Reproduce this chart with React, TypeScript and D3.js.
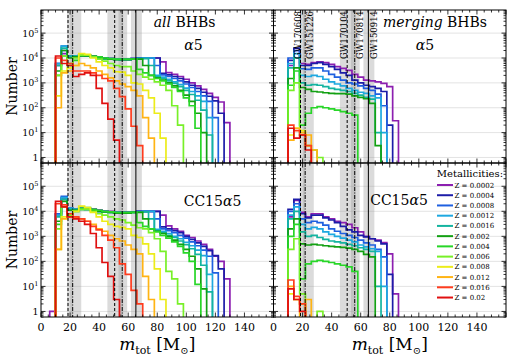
import React from "react";
import * as d3 from "d3";

// ---------- DATA ----------
// bin edges of the m_tot histograms [Msun]
const EDGES = [6, 10, 14, 18, 22, 26, 30, 34, 38, 42, 46, 50, 54, 58, 62, 66, 70, 74, 78, 82, 86, 90, 94, 98, 102, 106, 110, 114, 118, 122, 126, 130, 134];

const METALLICITIES = ["0.0002", "0.0004", "0.0008", "0.0012", "0.0016", "0.002", "0.004", "0.006", "0.008", "0.012", "0.016", "0.02"];
const COLORS = ["#8c1fb0", "#1c1ca8", "#1f60e0", "#1ea8e0", "#14b4a0", "#12a012", "#28d628", "#78f028", "#ecec1a", "#ffb414", "#ff3c1e", "#e01010"];

// all BHBs, alpha5
const allA5_z0002 = [0, 6e3, 1.5e4, 1.1e4, 1.1e4, 1.3e4, 1.3e4, 1.2e4, 1.1e4, 1e4, 9.5e3, 9e3, 8.5e3, 8.5e3, 9.5e3, 1e4, 1e4, 1e4, 1e4, 7e3, 2.6e3, 2.2e3, 1.8e3, 1.4e3, 1e3, 750, 550, 380, 260, 170, 25];
const allA5_z0004 = [0, 5e3, 2e4, 1.2e4, 1.2e4, 1.3e4, 1.3e4, 1.2e4, 1.1e4, 1e4, 9.5e3, 9e3, 9e3, 9e3, 9.5e3, 1e4, 1e4, 1e4, 1e4, 2.4e3, 2.1e3, 1.8e3, 1.5e3, 1.1e3, 800, 600, 420, 290, 190, 60];
const allA5_z0008 = [0, 6e3, 3e4, 1.2e4, 1.2e4, 1.3e4, 1.2e4, 1.1e4, 1e4, 1e4, 9.5e3, 9e3, 9e3, 9e3, 9.5e3, 1e4, 1e4, 1e4, 5e3, 2.1e3, 1.8e3, 1.5e3, 1.2e3, 900, 650, 450, 300, 180, 40];
const allA5_z0012 = [0, 6e3, 3e4, 1.2e4, 1.2e4, 1.3e4, 1.2e4, 1.1e4, 1e4, 9.5e3, 9e3, 9e3, 8.5e3, 8.5e3, 9e3, 9.5e3, 1e4, 1e4, 2e3, 1.7e3, 1.4e3, 1.1e3, 850, 620, 450, 300, 180, 40];
const allA5_z0016 = [0, 5e3, 2.5e4, 1.2e4, 1.2e4, 1.2e4, 1.2e4, 1.1e4, 1e4, 9.5e3, 9e3, 8.5e3, 8.5e3, 8.5e3, 9e3, 9.5e3, 9.5e3, 5e3, 1.8e3, 1.5e3, 1.2e3, 950, 700, 500, 340, 200, 80, 8];
const allA5_z002 = [0, 3e3, 2e4, 1e4, 1.1e4, 1.2e4, 1.2e4, 1.1e4, 1e4, 9.5e3, 9e3, 8.5e3, 8.5e3, 8.5e3, 9e3, 9e3, 5e3, 2e3, 1.6e3, 1.3e3, 1e3, 750, 500, 320, 180, 60, 10];
const allA5_z004 = [0, 2e3, 1.2e4, 5e3, 8e3, 1.3e4, 1.3e4, 1.2e4, 1.1e4, 1e4, 9.5e3, 9e3, 9e3, 9e3, 9e3, 3.5e3, 2.5e3, 2e3, 1.5e3, 1.2e3, 900, 650, 450, 250, 120, 15];
const allA5_z006 = [0, 2e3, 1.2e4, 6e3, 1e4, 1.3e4, 1.3e4, 1.1e4, 9e3, 7.5e3, 6e3, 5e3, 4.5e3, 4.5e3, 3e3, 2.2e3, 1.7e3, 1.4e3, 1.1e3, 800, 500, 120, 20];
const allA5_z008 = [0, 300, 3e3, 4e3, 5e3, 1.5e4, 1.4e4, 1e4, 7e3, 5e3, 4e3, 2.8e3, 2.7e3, 2e3, 1e3, 900, 500, 250, 60, 6];
const allA5_z012 = [0, 100, 2.5e3, 3e3, 5e3, 6e3, 5e3, 4e3, 3e3, 2.2e3, 1.6e3, 1.2e3, 900, 700, 500, 300, 40, 6];
const allA5_z016 = [0, 1e4, 8e3, 6e3, 3e3, 3e3, 3e3, 2.5e3, 2e3, 1.5e3, 1.2e3, 600, 280, 90, 18, 3];
const allA5_z02 = [0, 1.2e4, 6e3, 5e3, 1.8e3, 2.2e3, 2.5e3, 2e3, 600, 150, 35, 5];

// all BHBs, CC15 alpha5
const allCC_z0002 = [1, 8e3, 3e4, 1.2e4, 1.2e4, 1.3e4, 1.3e4, 1.2e4, 1.1e4, 1e4, 1e4, 9.5e3, 9e3, 9e3, 9.5e3, 1e4, 1e4, 1e4, 1e4, 7e3, 2.6e3, 2e3, 1.6e3, 1.1e3, 900, 650, 480, 300, 160, 100, 20];
const allCC_z0004 = [0, 8e3, 3.5e4, 1.3e4, 1.2e4, 1.3e4, 1.3e4, 1.2e4, 1.1e4, 1e4, 9.5e3, 9e3, 9e3, 9e3, 9.5e3, 1e4, 1e4, 1e4, 1e4, 2.4e3, 2e3, 1.7e3, 1.4e3, 1e3, 750, 550, 400, 270, 170, 50];
const allCC_z0008 = [0, 8e3, 4e4, 1.3e4, 1.2e4, 1.3e4, 1.2e4, 1.1e4, 1e4, 1e4, 9.5e3, 9e3, 9e3, 9e3, 9.5e3, 1e4, 1e4, 1e4, 5e3, 2e3, 1.7e3, 1.4e3, 1.1e3, 850, 600, 420, 280, 160, 35];
const allCC_z0012 = [0, 7e3, 3.5e4, 1.3e4, 1.2e4, 1.3e4, 1.2e4, 1.1e4, 1e4, 9.5e3, 9e3, 9e3, 8.5e3, 8.5e3, 9e3, 9.5e3, 1e4, 1e4, 1.9e3, 1.6e3, 1.3e3, 1e3, 800, 580, 420, 280, 170, 30];
const allCC_z0016 = [0, 6e3, 3e4, 1.2e4, 1.2e4, 1.2e4, 1.2e4, 1.1e4, 1e4, 9.5e3, 9e3, 8.5e3, 8.5e3, 8.5e3, 9e3, 9.5e3, 9.5e3, 5e3, 1.7e3, 1.4e3, 1.1e3, 900, 650, 470, 320, 190, 70, 6];
const allCC_z002 = [0, 4e3, 2.5e4, 1.1e4, 1.1e4, 1.2e4, 1.2e4, 1.1e4, 1e4, 9.5e3, 9e3, 8.5e3, 8.5e3, 8.5e3, 9e3, 9e3, 5e3, 2e3, 1.6e3, 1.3e3, 1e3, 700, 480, 300, 160, 50, 8];
const allCC_z004 = [0, 3e3, 1.5e4, 8e3, 1e4, 1.3e4, 1.4e4, 1.2e4, 1.1e4, 1e4, 9.5e3, 9e3, 9e3, 9e3, 9e3, 3.5e3, 2.5e3, 2e3, 1.5e3, 1.1e3, 850, 600, 400, 220, 100, 12];
const allCC_z006 = [0, 2e3, 1.5e4, 7e3, 1e4, 1.2e4, 1.2e4, 1e4, 8e3, 7e3, 6e3, 5e3, 4.5e3, 3.5e3, 2.8e3, 2.2e3, 2e3, 1.4e3, 800, 250, 40, 20, 2];
const allCC_z008 = [0, 300, 6e3, 8e3, 1e4, 1.6e4, 1.4e4, 9e3, 6e3, 4e3, 3e3, 2.5e3, 2.3e3, 2e3, 1.1e3, 900, 500, 200, 50, 3];
const allCC_z012 = [0, 300, 5e3, 6e3, 5.5e3, 5e3, 4e3, 3e3, 2e3, 1.6e3, 1.1e3, 800, 650, 450, 300, 200, 25, 3];
const allCC_z016 = [0, 2e4, 1.8e4, 8e3, 6e3, 5e3, 4e3, 2.5e3, 1.8e3, 1.1e3, 700, 350, 80, 30, 7, 2];
const allCC_z02 = [0, 2.5e4, 1.5e4, 6e3, 5e3, 4e3, 3e3, 1.3e3, 350, 90, 25, 3];

// merging BHBs, alpha5
const mrgA5_z0002 = [0, 5e3, 2e4, 6e3, 5.5e3, 6.5e3, 7e3, 6.5e3, 5.5e3, 4.5e3, 3.8e3, 3.2e3, 2.2e3, 1.7e3, 1.3e3, 1.2e3, 1.1e3, 950, 700, 30];
const mrgA5_z0004 = [0, 8e3, 2.5e4, 5e3, 5e3, 6e3, 6.5e3, 5.5e3, 4.5e3, 3.5e3, 2.5e3, 2e3, 1.3e3, 1e3, 800, 700, 600, 450, 20];
const mrgA5_z0008 = [0, 1e4, 2e4, 3.7e3, 3.5e3, 4e3, 4e3, 3e3, 2.2e3, 1.7e3, 1.3e3, 1e3, 900, 750, 600, 500, 350, 120];
const mrgA5_z0012 = [0, 6e3, 1.5e4, 2e3, 1.8e3, 2e3, 1.8e3, 1.4e3, 1.1e3, 900, 750, 600, 500, 420, 380, 300, 250, 10];
const mrgA5_z0016 = [0, 4e3, 1e4, 1e3, 800, 850, 800, 700, 600, 550, 500, 450, 380, 320, 260, 220, 10];
const mrgA5_z002 = [0, 1.5e3, 4e3, 650, 550, 450, 430, 400, 380, 370, 370, 350, 300, 260, 230, 150, 3];
const mrgA5_z004 = [0, 800, 3e3, 20, 60, 100, 110, 100, 90, 80, 70, 60, 50];
const mrgA5_z006 = [0, 500, 1e3, 8, 3, 2, 1];
const mrgA5_z008 = [0, 8, 15, 12, 3];
const mrgA5_z012 = [0, 5, 15, 10, 8, 2];
const mrgA5_z016 = [0, 20, 12, 8, 3];
const mrgA5_z02 = [0, 15, 6, 8, 2];

// merging BHBs, CC15 alpha5
const mrgCC_z0002 = [0, 6e3, 2.7e4, 9e3, 6e3, 8e3, 8e3, 6e3, 5e3, 4e3, 3.5e3, 3e3, 2.2e3, 1.5e3, 1e3, 800, 700, 560, 200, 5];
const mrgCC_z0004 = [0, 1.2e4, 3e4, 8e3, 5.5e3, 7e3, 7e3, 5.5e3, 4.5e3, 3.5e3, 2.5e3, 1.8e3, 1.5e3, 1.1e3, 950, 800, 650, 500, 30];
const mrgCC_z0008 = [0, 1e4, 2e4, 5e3, 3.5e3, 4e3, 3.5e3, 2.8e3, 2e3, 1.6e3, 1.3e3, 1.1e3, 900, 700, 550, 450, 300, 150];
const mrgCC_z0012 = [0, 7e3, 1.5e4, 3e3, 2e3, 2.3e3, 2e3, 1.5e3, 1.2e3, 1e3, 850, 700, 600, 450, 380, 320, 250, 10];
const mrgCC_z0016 = [0, 5e3, 1e4, 1.5e3, 1e3, 1.1e3, 900, 750, 650, 600, 550, 480, 420, 350, 300, 250, 10];
const mrgCC_z002 = [0, 2e3, 5e3, 500, 450, 480, 450, 420, 400, 380, 360, 340, 300, 250, 190, 150];
const mrgCC_z004 = [0, 1e3, 3e3, 20, 80, 100, 110, 100, 90, 80, 70, 60, 40];
const mrgCC_z006 = [0, 300, 800, 5, 0, 0, 1];
const mrgCC_z008 = [0, 5, 3, 2];
const mrgCC_z012 = [0, 10, 3, 0, 3];
const mrgCC_z016 = [0, 18, 4, 2];
const mrgCC_z02 = [0, 8, 3, 1];

// LVK events: total mass and 90% interval
const GW_NAMES = ["GW150914", "GW151226", "GW170104", "GW170608", "GW170814"];
const GW_MTOT = [65.3, 21.8, 50.7, 18.6, 55.9];
const GW_LO = [61.9, 20.1, 45.7, 17.9, 53.3];
const GW_HI = [69.4, 27.7, 56.6, 21.8, 59.3];

const X_TICKS = [0, 20, 40, 60, 80, 100, 120, 140];
const Y_TICKS = [1, 10, 100, 1000, 10000, 100000];

// ---------- STYLE / LAYOUT ----------
const FONT = "'DejaVu Serif', serif";
const GW_DASH = ["none", "4,1.5,1,1.5", "3,2", "3,2", "4,1.5,1,1.5"];
const GW_LABEL_DX = [6, 5, -3, -3, 5.5];
const L = 41, M = 273.5, R = 506, T = 10, MID = 163, B = 317;

const xLeft = d3.scaleLinear().domain([0, 160]).range([L, M]);
const xRight = d3.scaleLinear().domain([0, 160]).range([M, R]);
const yTop = d3.scaleLog().domain([0.6, 8.5e5]).range([MID, T]);
const yBot = d3.scaleLog().domain([0.6, 8.5e5]).range([B, MID]);

const PANELS = [
  { id: "tl", x: xLeft, y: yTop, series: [allA5_z0002, allA5_z0004, allA5_z0008, allA5_z0012, allA5_z0016, allA5_z002, allA5_z004, allA5_z006, allA5_z008, allA5_z012, allA5_z016, allA5_z02], left: true, bottom: false },
  { id: "tr", x: xRight, y: yTop, series: [mrgA5_z0002, mrgA5_z0004, mrgA5_z0008, mrgA5_z0012, mrgA5_z0016, mrgA5_z002, mrgA5_z004, mrgA5_z006, mrgA5_z008, mrgA5_z012, mrgA5_z016, mrgA5_z02], left: false, bottom: false },
  { id: "bl", x: xLeft, y: yBot, series: [allCC_z0002, allCC_z0004, allCC_z0008, allCC_z0012, allCC_z0016, allCC_z002, allCC_z004, allCC_z006, allCC_z008, allCC_z012, allCC_z016, allCC_z02], left: true, bottom: true },
  { id: "br", x: xRight, y: yBot, series: [mrgCC_z0002, mrgCC_z0004, mrgCC_z0008, mrgCC_z0012, mrgCC_z0016, mrgCC_z002, mrgCC_z004, mrgCC_z006, mrgCC_z008, mrgCC_z012, mrgCC_z016, mrgCC_z02], left: false, bottom: true },
];

function histPath(vals: number[], x: any, y: any) {
  const [y0] = y.range();
  const base = y0 + 10;
  const pts: [number, number][] = [[x(EDGES[0]), base]];
  vals.forEach((v, i) => pts.push([x(EDGES[i]), v > 0 ? y(v) : base]));
  pts.push([x(EDGES[vals.length]), base]);
  return d3.line().curve(d3.curveStepAfter)(pts) || "";
}

function Panel({ p }: { p: any }) {
  const { x, y } = p;
  const [x0, x1] = x.range();
  const [yb, yt] = y.range();
  const xMaj = d3.range(0, 161, 20);
  const xMin = d3.range(0, 161, 5).filter((v: number) => v % 20 !== 0);
  const yMin: number[] = [];
  for (let d = -1; d <= 5; d++) for (let m = 2; m <= 9; m++) {
    const v = m * Math.pow(10, d);
    if (v >= 0.6 && v <= 8.5e5) yMin.push(v);
  }
  const tk = (k: string, x1_: number, y1_: number, x2_: number, y2_: number) => (
    <line key={k} x1={x1_} y1={y1_} x2={x2_} y2={y2_} stroke="#000" strokeWidth={0.8} />
  );
  return (
    <g>
      <defs>
        <clipPath id={"clip-" + p.id}>
          <rect x={x0} y={yt} width={x1 - x0} height={yb - yt} />
        </clipPath>
      </defs>
      {Y_TICKS.map((v) => (
        <line key={"g" + v} x1={x0} x2={x1} y1={y(v)} y2={y(v)} stroke="#dcdcdc" strokeWidth={0.8} />
      ))}
      <g clipPath={`url(#clip-${p.id})`}>
        {GW_NAMES.map((n, i) => (
          <rect key={"b" + n} x={x(GW_LO[i])} width={x(GW_HI[i]) - x(GW_LO[i])} y={yt} height={yb - yt} fill="#999" fillOpacity={0.35} />
        ))}
        {p.series.map((s: number[], i: number) => (
          <path key={"s" + i} d={histPath(s, x, y)} fill="none" stroke={COLORS[i]} strokeWidth={1.7} strokeLinejoin="miter" />
        ))}
        {GW_NAMES.map((n, i) => (
          <line key={"l" + n} x1={x(GW_MTOT[i])} x2={x(GW_MTOT[i])} y1={yt} y2={yb} stroke="#000" strokeWidth={1} strokeDasharray={GW_DASH[i]} />
        ))}
      </g>
      {/* ticks */}
      {xMaj.map((v: number) => [tk("xb" + v, x(v), yb, x(v), yb - 4.5), tk("xt" + v, x(v), yt, x(v), yt + 4.5)])}
      {xMin.map((v: number) => [tk("xbm" + v, x(v), yb, x(v), yb - 2.5), tk("xtm" + v, x(v), yt, x(v), yt + 2.5)])}
      {Y_TICKS.map((v) => [tk("yl" + v, x0, y(v), x0 + 4.5, y(v)), tk("yr" + v, x1, y(v), x1 - 4.5, y(v))])}
      {yMin.map((v) => [tk("ylm" + v, x0, y(v), x0 + 2.5, y(v)), tk("yrm" + v, x1, y(v), x1 - 2.5, y(v))])}
      <rect x={x0} y={yt} width={x1 - x0} height={yb - yt} fill="none" stroke="#000" strokeWidth={1} />
      {p.left &&
        Y_TICKS.map((v, k) => (
          <text key={"yt" + v} x={38.5} y={y(v) + 3.5} textAnchor="end" fontSize={9.5} fontFamily={FONT}>
            {k === 0 ? "1" : "10"}
            {k > 0 && (
              <tspan dy={-4} fontSize={6.5}>
                {k}
              </tspan>
            )}
          </text>
        ))}
      {p.left && (
        <text transform={`translate(12,${(yb + yt) / 2}) rotate(-90)`} textAnchor="middle" dominantBaseline="central" fontSize={14} fontFamily={FONT}>
          Number
        </text>
      )}
      {p.bottom &&
        X_TICKS.map((v) => (
          <text key={"xl" + v} x={x(v)} y={330.5} textAnchor="middle" fontSize={11} fontFamily={FONT}>
            {v}
          </text>
        ))}
      {p.bottom && (
        <text x={(x0 + x1) / 2} y={350} textAnchor="middle" fontSize={17} fontFamily={FONT}>
          <tspan fontStyle="italic">m</tspan>
          <tspan fontSize={11} dy={4}>tot</tspan>
          <tspan dy={-4}> [M</tspan>
          <tspan fontSize={10} dy={4}>⊙</tspan>
          <tspan dy={-4}>]</tspan>
        </text>
      )}
    </g>
  );
}

export default function App() {
  const gwY = T + 1;
  return (
    <svg width={512} height={358} viewBox="0 0 512 358" style={{ position: "absolute", left: 0, top: 0, background: "#fff" }}>
      <rect x={0} y={0} width={512} height={358} fill="#fff" />
      {PANELS.map((p) => (
        <Panel key={p.id} p={p} />
      ))}
      {/* panel titles */}
      <text x={184.5} y={27} textAnchor="middle" fontSize={14} fontFamily={FONT}>
        <tspan fontStyle="italic">all</tspan> BHBs
      </text>
      <text x={193.5} y={50} textAnchor="middle" fontSize={14} fontFamily={FONT}>
        <tspan fontStyle="italic">α</tspan>5
      </text>
      <text x={435} y={27} textAnchor="middle" fontSize={14} fontFamily={FONT}>
        <tspan fontStyle="italic">merging</tspan> BHBs
      </text>
      <text x={425} y={50} textAnchor="middle" fontSize={14} fontFamily={FONT}>
        <tspan fontStyle="italic">α</tspan>5
      </text>
      <text x={212.5} y={206} textAnchor="middle" fontSize={14} fontFamily={FONT}>
        CC15<tspan fontStyle="italic">α</tspan>5
      </text>
      <text x={399} y={205} textAnchor="middle" fontSize={14} fontFamily={FONT}>
        CC15<tspan fontStyle="italic">α</tspan>5
      </text>
      {/* GW labels */}
      {GW_NAMES.map((n, i) => {
        const cx = xRight(GW_MTOT[i]) + GW_LABEL_DX[i];
        return (
          <text key={"gw" + n} transform={`translate(${cx},${gwY}) rotate(-90)`} textAnchor="end" dominantBaseline="central" fontSize={8.5} fontFamily={FONT}>
            {n}
          </text>
        );
      })}
      {/* legend */}
      <text x={503} y={177} textAnchor="end" fontSize={10} fontFamily={FONT}>
        Metallicities:
      </text>
      {METALLICITIES.map((z, i) => {
        const cy = 185 + i * 10.23;
        return (
          <g key={"lg" + z}>
            <line x1={437} x2={453} y1={cy} y2={cy} stroke={COLORS[i]} strokeWidth={2} />
            <text x={454.5} y={cy + 2.5} fontSize={7} fontFamily={FONT}>
              {`Z = ${z}`}
            </text>
          </g>
        );
      })}
    </svg>
  );
}
